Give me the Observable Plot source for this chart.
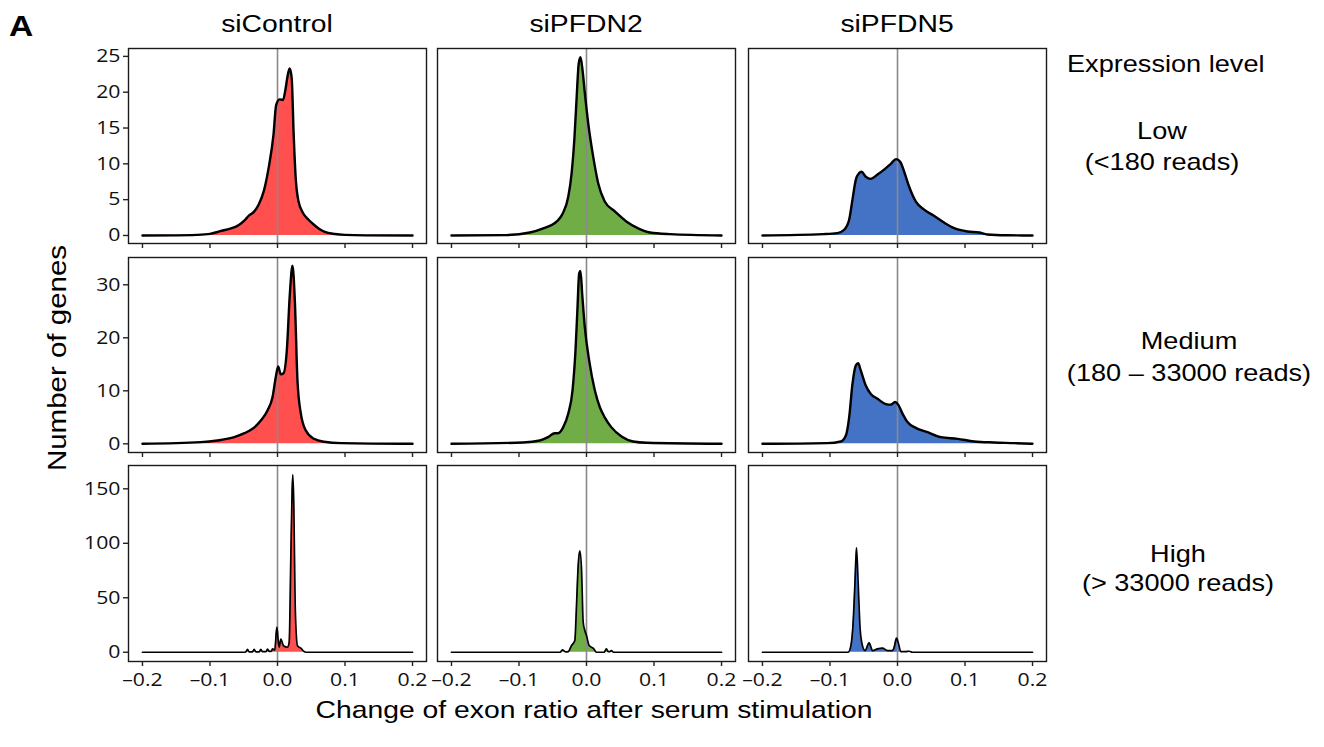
<!DOCTYPE html>
<html><head><meta charset="utf-8">
<script src="https://cdn.jsdelivr.net/npm/d3@7"></script>
<script src="https://cdn.jsdelivr.net/npm/@observablehq/plot@0.6"></script>
<style>
html,body{margin:0;padding:0;background:#fff;}
#root{position:relative;width:1324px;height:747px;overflow:hidden;background:#fff;}
#root svg.panel{position:absolute;overflow:visible;}
#overlay{position:absolute;left:0;top:0;}
</style></head><body><div id="root"></div>
<script>
// ---------- data ----------
const conditions = ["siControl", "siPFDN2", "siPFDN5"];
const levelLines = [["Low", "(<180 reads)"], ["Medium", "(180 – 33000 reads)"], ["High", "(> 33000 reads)"]];
const stripTitle = "Expression level";
const panelLetter = "A";
const yAxisTitle = "Number of genes";
const xAxisTitle = "Change of exon ratio after serum stimulation";
const fillColors = ["#FF4F4F", "#70AD47", "#4472C4"];
const xTicks = [-0.2, -0.1, 0, 0.1, 0.2];
const yTicksLow = [0, 5, 10, 15, 20, 25];
const yTicksMedium = [0, 10, 20, 30];
const yTicksHigh = [0, 50, 100, 150];

// density curves: [change of exon ratio, number of genes]
const siControlLow = [[-0.2,0],[-0.15,0.02],[-0.12,0.08],[-0.1,0.22],[-0.085,0.6],[-0.07,0.95],[-0.06,1.3],[-0.05,2.0],[-0.042,2.8],[-0.035,3.3],[-0.028,4.3],[-0.02,6.3],[-0.013,9.5],[-0.006,14],[-0.002,18.2],[0.003,19.0],[0.008,18.9],[0.012,20.5],[0.015,22.3],[0.018,23.3],[0.021,22.0],[0.024,14],[0.027,8],[0.031,4.8],[0.038,3.1],[0.046,2.2],[0.054,1.5],[0.062,0.9],[0.07,0.5],[0.085,0.2],[0.1,0.08],[0.13,0.02],[0.2,0]];
const siPFDN2Low = [[-0.2,0],[-0.12,0.05],[-0.084,0.42],[-0.064,1.0],[-0.044,1.96],[-0.035,3.1],[-0.027,5.4],[-0.022,8.7],[-0.018,13.4],[-0.0148,18.9],[-0.0114,24.1],[-0.0089,24.9],[-0.0059,23.1],[-0.0025,19.9],[0.0025,15.7],[0.0099,11.0],[0.0173,7.3],[0.027,4.75],[0.042,3.35],[0.059,1.96],[0.0765,1.0],[0.094,0.42],[0.123,0.19],[0.2,0]];
const siPFDN5Low = [[-0.2,0],[-0.109,0.19],[-0.089,0.33],[-0.079,0.8],[-0.0716,2.2],[-0.0667,5.0],[-0.0617,7.8],[-0.0568,8.7],[-0.0533,8.9],[-0.047,8.2],[-0.0395,7.9],[-0.0296,8.5],[-0.0198,9.2],[-0.0099,10.0],[-0.002,10.66],[0.004,10.3],[0.0099,8.9],[0.0173,6.8],[0.027,4.75],[0.0395,3.6],[0.054,2.75],[0.069,1.8],[0.084,1.02],[0.1037,0.56],[0.121,0.42],[0.133,0.14],[0.163,0.03],[0.2,0]];
const siControlMedium = [[-0.2,0],[-0.1136,0.31],[-0.089,0.63],[-0.064,1.26],[-0.049,2.0],[-0.037,2.83],[-0.0247,4.4],[-0.0148,6.3],[-0.0074,8.8],[-0.0025,12.6],[0.001,14.6],[0.0049,13.1],[0.0089,13.3],[0.0138,17.6],[0.0183,28.3],[0.0222,33.6],[0.0257,27.0],[0.0296,11.9],[0.0346,5.7],[0.042,2.5],[0.054,0.94],[0.069,0.38],[0.094,0.13],[0.2,0]];
const siPFDN2Medium = [[-0.2,0],[-0.094,0.25],[-0.069,0.63],[-0.057,1.26],[-0.047,2.0],[-0.042,2.0],[-0.0346,3.1],[-0.027,5.7],[-0.0207,10.1],[-0.0163,17.6],[-0.0133,25.8],[-0.0109,32.1],[-0.0089,32.6],[-0.0064,28.3],[-0.0025,22.0],[0.004,15.7],[0.0123,10.1],[0.0198,6.9],[0.027,5.0],[0.037,3.1],[0.0519,1.38],[0.069,0.44],[0.089,0.19],[0.2,0]];
const siPFDN5Medium = [[-0.2,0],[-0.104,0.13],[-0.084,0.44],[-0.0765,1.57],[-0.0716,5.0],[-0.0667,11.3],[-0.0617,14.8],[-0.0583,15.2],[-0.0543,13.8],[-0.047,11.0],[-0.0395,9.4],[-0.0296,8.5],[-0.0173,7.5],[-0.0099,7.4],[-0.0035,7.9],[0.001,7.4],[0.0074,5.7],[0.0148,4.1],[0.027,3.0],[0.0444,2.2],[0.064,1.26],[0.089,0.94],[0.1136,0.44],[0.143,0.25],[0.173,0.13],[0.2,0]];
const siControlHigh = [[-0.2,0],[-0.05,0],[-0.047,0.2],[-0.0444,2.6],[-0.042,0.3],[-0.037,0.3],[-0.0346,2.6],[-0.032,0.4],[-0.027,0.4],[-0.0247,2.6],[-0.022,0.5],[-0.017,0.5],[-0.0148,2.8],[-0.012,0.8],[-0.009,1],[-0.0074,3],[-0.004,2],[-0.001,23],[0.0015,8],[0.0025,4.6],[0.0049,12],[0.0089,6],[0.0148,4.6],[0.0173,9],[0.0198,89],[0.0217,150],[0.0227,163],[0.0242,135],[0.0262,43],[0.0296,6],[0.0346,3.7],[0.0395,0.6],[0.042,0],[0.2,0]];
const siPFDN2High = [[-0.2,0],[-0.039,0],[-0.0356,2.1],[-0.031,0.4],[-0.027,0.6],[-0.0222,6.1],[-0.0173,10.7],[-0.0148,43],[-0.0123,80],[-0.0099,93],[-0.0074,76.5],[-0.0049,27.5],[-0.0025,20],[0,15.3],[0.004,6.1],[0.0099,3.7],[0.0148,0],[0.026,0],[0.0296,3.1],[0.032,0.6],[0.0345,0.6],[0.037,1.5],[0.04,0],[0.2,0]];
const siPFDN5High = [[-0.2,0],[-0.073,0],[-0.069,6.1],[-0.0657,27.5],[-0.063,64],[-0.0607,95.8],[-0.0583,64],[-0.0553,21],[-0.0519,6.1],[-0.048,1.5],[-0.042,8.6],[-0.037,1.5],[-0.0296,3.1],[-0.0222,3.7],[-0.0148,1.5],[-0.0074,1.5],[-0.0049,4.6],[-0.0015,12.9],[0.0015,7.7],[0.0049,0.6],[0.0123,0.6],[0.0173,0.9],[0.022,0],[0.2,0]];

const panelData = [
  [siControlLow, siPFDN2Low, siPFDN5Low],
  [siControlMedium, siPFDN2Medium, siPFDN5Medium],
  [siControlHigh, siPFDN2High, siPFDN5High]
];
const yTicksByRow = [yTicksLow, yTicksMedium, yTicksHigh];

// ---------- layout ----------
const colLeft = [128, 437, 748];
const panelW = 298;
const rowTop = [48, 257, 465];
const panelH = [195, 195, 196];
const yDomains = [[-1.12, 26.1], [-1.64, 35.15], [-8.5, 171.4]];
const xDomain = [-0.2207, 0.2207];
const ml = 60, mr = 10, mt = 10, mb = 45;
const sx = 1.18;
const root = document.getElementById("root");
const fmt = d => (d < 0 ? "\u2013" : "") + Math.abs(d).toFixed(1);

for (let r = 0; r < 3; r++) {
  for (let c = 0; c < 3; c++) {
    const data = panelData[r][c];
    const marks = [
      Plot.areaY(data, {x: d => d[0], y: d => d[1], fill: fillColors[c], curve: "monotone-x"}),
      Plot.ruleX([0], {stroke: "#8a8a8a", strokeWidth: 1.6}),
      Plot.lineY(data, {x: d => d[0], y: d => d[1], stroke: "#000", strokeWidth: r === 2 ? 1.7 : 2.4, curve: "monotone-x", strokeLinejoin: "round"}),
      Plot.frame({stroke: "#1a1a1a", strokeWidth: 1.4}),
      Plot.axisX(xTicks, {tickSize: 5, tickPadding: 7, stroke: "#222", strokeWidth: 1.4, tickFormat: r === 2 ? fmt : () => "", label: null, fontSize: 18})
    ];
    if (c === 0) {
      marks.push(Plot.axisY(yTicksByRow[r], {tickSize: 5, tickPadding: 3, stroke: "#222", strokeWidth: 1.4, label: null, fontSize: 18}));
    }
    const svg = Plot.plot({
      width: panelW + ml + mr,
      height: panelH[r] + mt + mb,
      marginLeft: ml, marginRight: mr, marginTop: mt, marginBottom: mb,
      x: {domain: xDomain, label: null},
      y: c === 0 ? {domain: yDomains[r], label: null} : {domain: yDomains[r], label: null, axis: null},
      style: {background: "transparent", overflow: "visible"},
      marks
    });
    svg.classList.add("panel");
    svg.querySelectorAll("text").forEach(t => {
      t.style.fontSize = "18px";
      t.style.fontFamily = "'Open Sans', sans-serif";
      t.style.fill = "#111";
      const tr = t.getAttribute("transform");
      if (tr) {
        t.setAttribute("transform", tr + ` scale(${sx},1)`);
      } else {
        const xa = t.getAttribute("x");
        if (xa !== null && !/em/.test(xa)) {
          t.setAttribute("transform", `translate(${+xa},0) scale(${sx},1)`);
          t.removeAttribute("x");
        } else {
          t.setAttribute("transform", `scale(${sx},1)`);
        }
      }
    });
    svg.style.left = (colLeft[c] - ml) + "px";
    svg.style.top = (rowTop[r] - mt) + "px";
    root.appendChild(svg);
  }
}

// ---------- text overlay ----------
const ov = d3.select(root).append("svg").attr("id", "overlay")
  .attr("width", 1324).attr("height", 747)
  .style("font-family", "'Liberation Sans', Arial, sans-serif").style("fill", "#000");
function txt(x, y, s, size, anchor) {
  return ov.append("text")
    .attr("transform", `translate(${x},${y}) scale(${sx},1)`)
    .attr("text-anchor", anchor).attr("font-size", size).text(s);
}
txt(10, 35, panelLetter, 30, "start").attr("font-weight", "bold").attr("transform", `translate(9,36) scale(1.12,1)`);
for (let c = 0; c < 3; c++) txt(colLeft[c] + panelW / 2, 32, conditions[c], 24, "middle");
txt(1067, 72, stripTitle, 23, "start");
const stripCx = [1162, 1189, 1178];
const stripY = [[139, 170], [349, 381], [562, 591]];
for (let r = 0; r < 3; r++) {
  txt(stripCx[r], stripY[r][0], levelLines[r][0], 23, "middle");
  txt(stripCx[r], stripY[r][1], levelLines[r][1], 23, "middle");
}
ov.append("text").attr("transform", `translate(66,358) rotate(-90) scale(${sx},1)`)
  .attr("text-anchor", "middle").attr("font-size", 25).text(yAxisTitle);
txt(594, 718, xAxisTitle, 24, "middle");
</script></body></html>
